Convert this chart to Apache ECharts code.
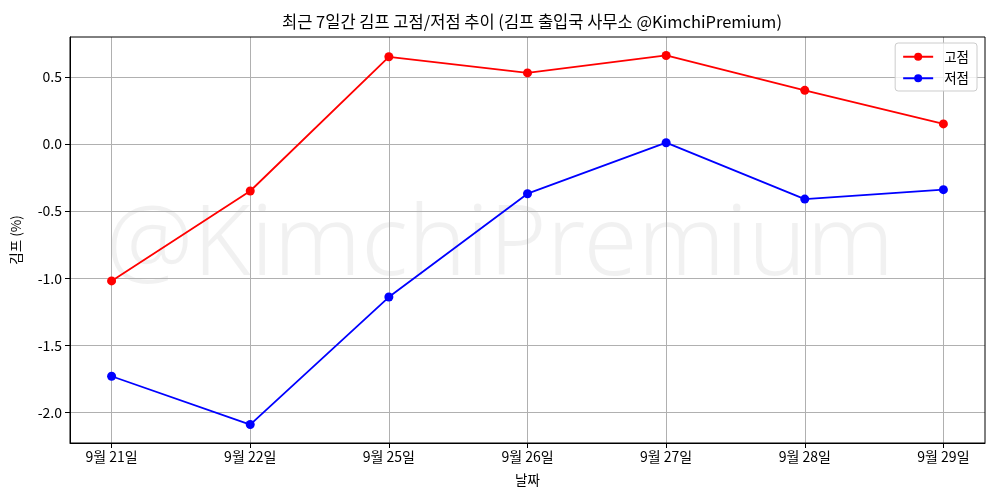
<!DOCTYPE html>
<html>
<head>
<meta charset="utf-8">
<script src="https://cdn.jsdelivr.net/npm/echarts@6/dist/echarts.min.js"></script>
<style>html,body{margin:0;padding:0;background:#fff}#c{width:1000px;height:500px}</style>
</head>
<body>
<div id="c"></div>
<script>
const categories = ['9월 21일','9월 22일','9월 25일','9월 26일','9월 27일','9월 28일','9월 29일'];
const highValues = [-1.02, -0.35, 0.65, 0.53, 0.66, 0.40, 0.15];
const lowValues = [-1.73, -2.09, -1.14, -0.37, 0.01, -0.41, -0.34];
const yTicks = [-2.0, -1.5, -1.0, -0.5, 0.0, 0.5];
const titleText = '최근 7일간 김프 고점/저점 추이 (김프 출입국 사무소 @KimchiPremium)';
const watermark = '@KimchiPremium';

const FONT = '"Noto Sans CJK KR", "Noto Sans", sans-serif';
const chart = echarts.init(document.getElementById('c'), null, {renderer: 'canvas'});
const xIdx = categories.map((_, i) => i);
const toPairs = arr => arr.map((v, i) => [i, v]);

chart.setOption({
  animation: false,
  backgroundColor: '#fff',
  textStyle: {fontFamily: FONT},
  title: {
    text: titleText, left: 527, top: 8, textAlign: 'center',
    textStyle: {fontFamily: FONT, fontSize: 16.5, fontWeight: 'normal', color: '#000'}
  },
  graphic: [{
    type: 'text', left: 'center', top: 198, z: 0, silent: true,
    style: {text: watermark, fontFamily: '"Noto Sans", sans-serif', fontSize: 98, fontWeight: 300, fill: 'rgba(0,0,0,0.055)'}
  }],
  legend: {
    right: 23, top: 43, orient: 'vertical', itemGap: 8, itemWidth: 30, itemHeight: 10,
    padding: [7, 8, 6, 7],
    backgroundColor: 'rgba(255,255,255,0.8)', borderColor: '#ccc', borderWidth: 1, borderRadius: 3,
    textStyle: {fontFamily: FONT, fontSize: 13.5, color: '#000', padding: [0, 0, 0, 6]},
    data: ['고점', '저점']
  },
  grid: {left: 70, right: 15, top: 37, bottom: 57, show: true, borderColor: '#000', borderWidth: 1, z: 3},
  xAxis: {
    type: 'value', min: -0.3, max: 6.3,
    name: '날짜', nameLocation: 'middle', nameGap: 30,
    nameTextStyle: {fontFamily: FONT, fontSize: 13.5, color: '#000'},
    axisLine: {show: true, onZero: false, lineStyle: {color: '#000', width: 1}},
    axisTick: {show: true, length: 5, customValues: xIdx, lineStyle: {color: '#000'}},
    axisLabel: {customValues: xIdx, formatter: v => categories[Math.round(v)] || '', fontFamily: FONT, fontSize: 14, color: '#000', margin: 7},
    splitLine: {show: true, lineStyle: {color: '#b0b0b0', width: 1}}
  },
  yAxis: {
    type: 'value', min: -2.2275, max: 0.7975,
    name: '김프 (%)', nameLocation: 'middle', nameGap: 47,
    nameTextStyle: {fontFamily: FONT, fontSize: 13.5, color: '#000'},
    axisLine: {show: true, onZero: false, lineStyle: {color: '#000', width: 1}},
    axisTick: {show: true, length: 5, customValues: yTicks, lineStyle: {color: '#000'}},
    axisLabel: {customValues: yTicks, formatter: v => v.toFixed(1), fontFamily: FONT, fontSize: 14, color: '#000', margin: 8},
    splitLine: {show: true, lineStyle: {color: '#b0b0b0', width: 1}}
  },
  series: [
    {name: '고점', type: 'line', data: toPairs(highValues), symbol: 'circle', symbolSize: 9,
     lineStyle: {color: '#ff0000', width: 1.8}, itemStyle: {color: '#ff0000'}, z: 5},
    {name: '저점', type: 'line', data: toPairs(lowValues), symbol: 'circle', symbolSize: 9,
     lineStyle: {color: '#0000ff', width: 1.8}, itemStyle: {color: '#0000ff'}, z: 5}
  ]
});
</script>
</body>
</html>
